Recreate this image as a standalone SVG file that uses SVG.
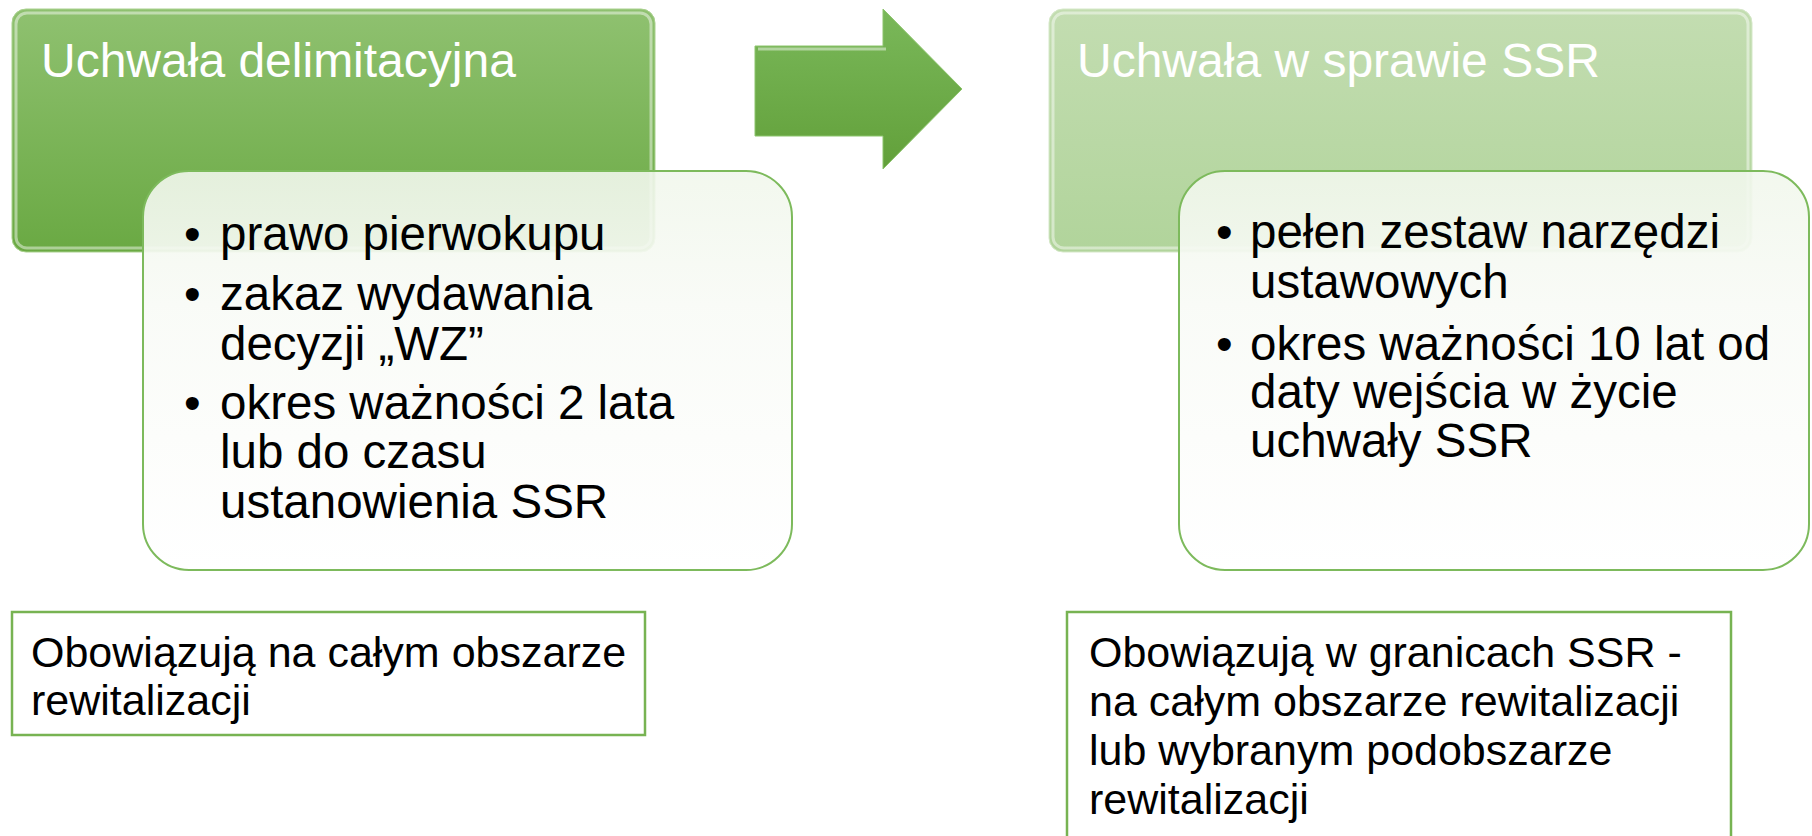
<svg xmlns="http://www.w3.org/2000/svg" width="1812" height="836" viewBox="0 0 1812 836">
<defs>
<linearGradient id="gDark" x1="0" y1="0" x2="0" y2="1">
<stop offset="0" stop-color="#8fc170"/>
<stop offset="1" stop-color="#6aa943"/>
</linearGradient>
<linearGradient id="gLight" x1="0" y1="0" x2="0" y2="1">
<stop offset="0" stop-color="#c3ddb1"/>
<stop offset="1" stop-color="#b1d49b"/>
</linearGradient>
<linearGradient id="gArrow" x1="0" y1="0" x2="0" y2="1">
<stop offset="0" stop-color="#7ab85a"/>
<stop offset="1" stop-color="#62a03a"/>
</linearGradient>
<linearGradient id="gWhite" x1="0" y1="0" x2="0" y2="1">
<stop offset="0" stop-color="#f1f7ec" stop-opacity="0.9"/>
<stop offset="0.35" stop-color="#f9fbf7" stop-opacity="0.95"/>
<stop offset="1" stop-color="#ffffff" stop-opacity="1"/>
</linearGradient>
</defs>
<style>
.title{font-family:"Liberation Sans",Arial,sans-serif;font-size:48px;fill:#ffffff}
.bul{font-family:"Liberation Sans",Arial,sans-serif;font-size:47.5px;fill:#000000}
.note{font-family:"Liberation Sans",Arial,sans-serif;font-size:43px;fill:#000000}
.hl{fill:none;stroke:#ffffff;stroke-opacity:0.45;stroke-width:3}
.card{fill:url(#gWhite);stroke:#7dba5c;stroke-width:2}
.notebox{fill:#ffffff;stroke:#77b352;stroke-width:2.5}
</style>

<g id="parent-left">
<rect x="12" y="9" width="643" height="243" rx="14" fill="url(#gDark)" stroke="#a9d18e" stroke-width="1"/>
<rect x="16" y="13" width="635" height="235" rx="11" class="hl"/>
<text class="title" x="41" y="77">Uchwała delimitacyjna</text>
</g>

<g id="parent-right">
<rect x="1049" y="9" width="703" height="243" rx="14" fill="url(#gLight)" stroke="#d5e8c8" stroke-width="1"/>
<rect x="1053" y="13" width="695" height="235" rx="11" class="hl"/>
<text class="title" x="1077" y="77">Uchwała w sprawie SSR</text>
</g>

<g id="child-left">
<rect x="143" y="171" width="649" height="399" rx="46" class="card"/>
<text class="bul" x="184" y="250">•</text>
<text class="bul" x="220" y="250">prawo pierwokupu</text>
<text class="bul" x="184" y="310">•</text>
<text class="bul" x="220" y="310">zakaz wydawania</text>
<text class="bul" x="220" y="360">decyzji „WZ”</text>
<text class="bul" x="184" y="419">•</text>
<text class="bul" x="220" y="419">okres ważności 2 lata</text>
<text class="bul" x="220" y="468">lub do czasu</text>
<text class="bul" x="220" y="518">ustanowienia SSR</text>
</g>

<g id="child-right">
<rect x="1179" y="171" width="630" height="399" rx="46" class="card"/>
<text class="bul" x="1216" y="248">•</text>
<text class="bul" x="1250" y="248">pełen zestaw narzędzi</text>
<text class="bul" x="1250" y="298">ustawowych</text>
<text class="bul" x="1216" y="360">•</text>
<text class="bul" x="1250" y="360">okres ważności 10 lat od</text>
<text class="bul" x="1250" y="408">daty wejścia w życie</text>
<text class="bul" x="1250" y="457">uchwały SSR</text>
</g>

<g id="connectors">
<path d="M755,46 L883,46 L883,9 L962,89 L883,169 L883,136 L755,136 Z" fill="url(#gArrow)" stroke="#8cc46c" stroke-width="1"/>
<path d="M758,49 L886,49" class="hl"/>
</g>

<g id="note-left">
<rect x="12" y="612" width="633" height="123" class="notebox"/>
<text class="note" x="31" y="667">Obowiązują na całym obszarze</text>
<text class="note" x="31" y="715">rewitalizacji</text>
</g>

<g id="note-right">
<rect x="1067" y="612" width="664" height="240" class="notebox"/>
<text class="note" x="1089" y="667">Obowiązują w granicach SSR -</text>
<text class="note" x="1089" y="716">na całym obszarze rewitalizacji</text>
<text class="note" x="1089" y="765">lub wybranym podobszarze</text>
<text class="note" x="1089" y="814">rewitalizacji</text>
</g>
</svg>
